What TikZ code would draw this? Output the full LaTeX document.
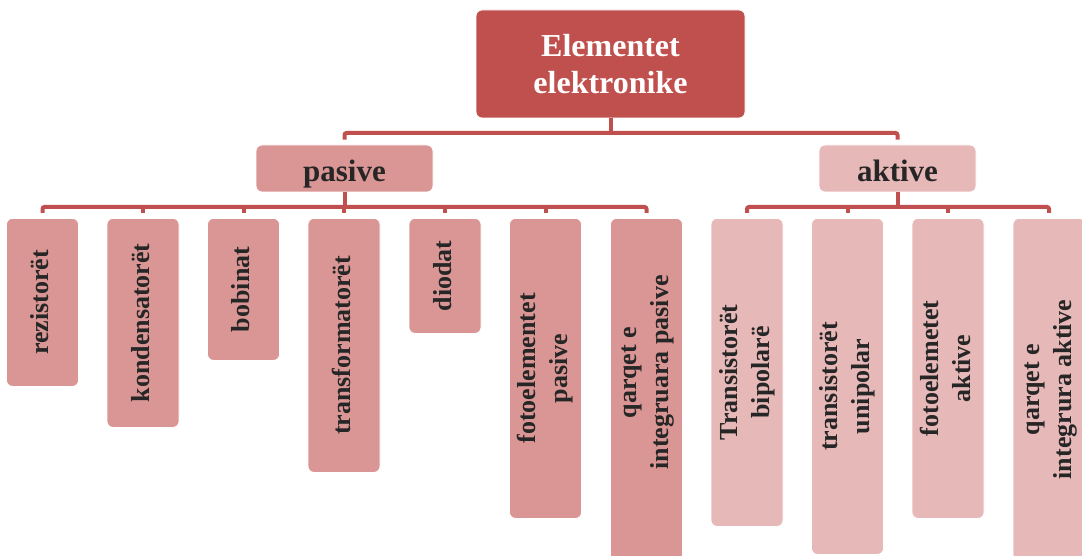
\documentclass[tikz,border=0pt]{standalone}
\usepackage{fontspec}
\setmainfont{Liberation Serif}
\definecolor{cdark}{HTML}{C0504D}
\definecolor{cmid}{HTML}{D99694}
\definecolor{clight}{HTML}{E6B8B7}
\definecolor{ctext}{HTML}{262626}
\newcommand{\vlab}[1]{\rotatebox{90}{\begin{tabular}{@{}c@{}}#1\end{tabular}}}
\begin{document}
\begin{tikzpicture}[x=1pt,y=-1pt,
  box/.style={rounded corners=6pt, draw=white, line width=0.8pt, inner sep=0pt, text=ctext},
  midbox/.style={box, minimum height=47pt, text height=30pt, text depth=3pt,
    font=\bfseries\fontsize{31}{36}\selectfont},
  leaf/.style={box, minimum width=72pt, anchor=north, font=\bfseries\fontsize{26}{32}\selectfont},
  leafp/.style={leaf, fill=cmid},
  leafa/.style={leaf, fill=clight},
  conn/.style={draw=cdark, line width=4pt, rounded corners=2pt}]
\useasboundingbox (0,0) rectangle (1082,556);
\clip (0,0) rectangle (1082,556);
% top
\node[box, fill=cdark, text=white, minimum width=269pt, minimum height=108pt, align=center,
  font=\bfseries\fontsize{32}{37}\selectfont] (top) at (610.5,64) {Elementet\\elektronike};
\node[midbox, fill=cmid, minimum width=177pt] (pas) at (344.5,168.5) {pasive};
\node[midbox, fill=clight, minimum width=157pt] (akt) at (897.5,168.5) {aktive};
% leaves
\node[leafp, minimum height=168pt] (l1) at (42.5,218) {\vlab{rezistorët}};
\node[leafp, minimum height=209pt] (l2) at (143,218) {\vlab{kondensatorët}};
\node[leafp, minimum height=142pt] (l3) at (243.5,218) {\vlab{bobinat}};
\node[leafp, minimum height=254pt] (l4) at (344,218) {\vlab{transformatorët}};
\node[leafp, minimum height=115pt] (l5) at (445,218) {\vlab{diodat}};
\node[leafp, minimum height=300pt] (l6) at (545.5,218) {\vlab{fotoelementet\\pasive}};
\node[leafp, minimum height=342pt] (l7) at (646.5,218) {\rotatebox{90}{\hspace{34pt}\begin{tabular}{@{}c@{}}qarqet e\\integruara pasive\end{tabular}}};
\node[leafa, minimum height=308pt] (l8) at (747,218) {\vlab{Transistorët\\bipolarë}};
\node[leafa, minimum height=336pt] (l9) at (847.5,218) {\vlab{transistorët\\unipolar}};
\node[leafa, minimum height=300pt] (l10) at (948,218) {\vlab{fotoelemetet\\aktive}};
\node[leafa, minimum height=342pt] (l11) at (1049,218) {\vlab{qarqet e\\integrura aktive}};
% connectors level 1
\coordinate (h1) at (610.5,133);
\draw[conn] (top.south) -- (h1);
\draw[conn] ([yshift=5pt]pas.north) |- (h1) -| ([yshift=5pt]akt.north);
% level 2 pasive
\coordinate (h2) at (344.5,207);
\draw[conn] (pas.south) -- (h2);
\draw[conn] ([yshift=5pt]l1.north) |- (h2) -| ([yshift=5pt]l7.north);
\foreach \n in {l2,l3,l4,l5,l6}{\draw[conn] ([yshift=5pt]\n.north) -- (\n.north |- h2);}
% level 2 aktive
\coordinate (h3) at (897.5,207);
\draw[conn] (akt.south) -- (h3);
\draw[conn] ([yshift=5pt]l8.north) |- (h3) -| ([yshift=5pt]l11.north);
\foreach \n in {l9,l10}{\draw[conn] ([yshift=5pt]\n.north) -- (\n.north |- h3);}
\end{tikzpicture}
\end{document}
